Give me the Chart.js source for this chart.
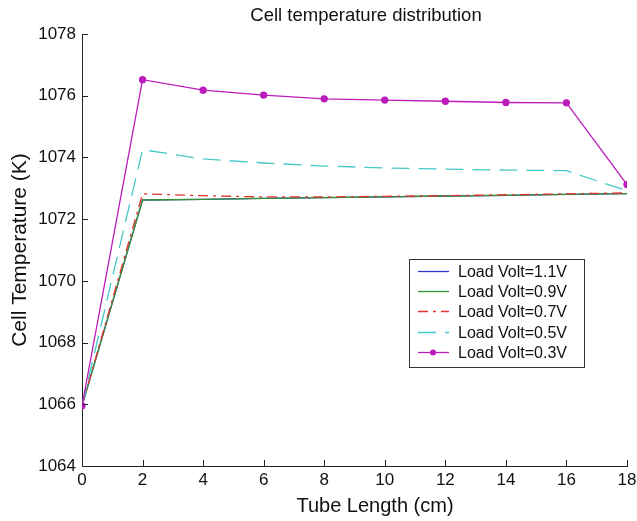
<!DOCTYPE html>
<html>
<head>
<meta charset="utf-8">
<script src="https://cdn.jsdelivr.net/npm/chart.js@4"></script>
<style>
  html, body { margin: 0; padding: 0; background: #fff; }
  #wrap { width: 637px; height: 521px; }
</style>
</head>
<body>
<div id="wrap"><canvas id="cellTemp" width="637" height="521"></canvas></div>
<script>
// tube positions (cm)
var tubeLength = [0, 2, 4, 6, 8, 10, 12, 14, 16, 18];

// cell temperature (K) for each load voltage
var volt11 = [1065.95, 1072.62, 1072.64, 1072.67, 1072.70, 1072.72, 1072.75, 1072.77, 1072.80, 1072.83];
var volt09 = [1065.95, 1072.62, 1072.64, 1072.67, 1072.70, 1072.72, 1072.75, 1072.77, 1072.80, 1072.83];
var volt07 = [1065.95, 1072.82, 1072.76, 1072.72, 1072.72, 1072.74, 1072.76, 1072.79, 1072.82, 1072.85];
var volt05 = [1065.95, 1074.25, 1073.95, 1073.82, 1073.72, 1073.66, 1073.62, 1073.59, 1073.57, 1072.92];
var volt03 = [1065.95, 1076.52, 1076.18, 1076.02, 1075.90, 1075.86, 1075.82, 1075.78, 1075.77, 1073.12];

var seriesLabels = ['Load Volt=1.1V', 'Load Volt=0.9V', 'Load Volt=0.7V', 'Load Volt=0.5V', 'Load Volt=0.3V'];
var yTicks = [1064, 1066, 1068, 1070, 1072, 1074, 1076, 1078];
var xTicks = [0, 2, 4, 6, 8, 10, 12, 14, 16, 18];

var chartTitle = 'Cell temperature distribution';
var xTitle = 'Tube Length (cm)';
var yTitle = 'Cell Temperature (K)';

var FONT = '"Liberation Sans", Arial, Helvetica, sans-serif';

function toPoints(arr) {
    var pts = [];
    for (let i = 0; i < arr.length; i++) {
        pts.push({ x: tubeLength[i], y: arr[i] });
    }
    return pts;
}

// inward tick marks (matlab style)
var inwardTicks = {
    id: 'inwardTicks',
    afterDatasetsDraw: function (chart) {
        var ctx = chart.ctx;
        var xs = chart.scales.x, ys = chart.scales.y;
        var area = chart.chartArea;
        ctx.save();
        ctx.strokeStyle = '#222';
        ctx.lineWidth = 1;
        ctx.beginPath();
        xTicks.forEach(function (v) {
            var px = Math.round(xs.getPixelForValue(v)) + 0.5;
            ctx.moveTo(px, area.bottom);
            ctx.lineTo(px, area.bottom - 6);
        });
        yTicks.forEach(function (v) {
            var py = Math.round(ys.getPixelForValue(v)) + 0.5;
            ctx.moveTo(area.left, py);
            ctx.lineTo(area.left + 6, py);
        });
        ctx.stroke();
        ctx.restore();
    }
};

// title and x label sit a bit right of centre in the original
var figTexts = {
    id: 'figTexts',
    afterDraw: function (chart) {
        var ctx = chart.ctx;
        ctx.save();
        ctx.fillStyle = '#111';
        ctx.textAlign = 'center';
        ctx.textBaseline = 'middle';
        ctx.font = '18.5px ' + FONT;
        ctx.fillText(chartTitle, 366, 16);
        ctx.font = '20px ' + FONT;
        ctx.fillText(xTitle, 375, 506);
        ctx.restore();
    }
};

// legend box drawn inside the plot
var boxLegend = {
    id: 'boxLegend',
    afterDraw: function (chart) {
        var ctx = chart.ctx;
        var left = 409, top = 259, w = 175, rowH = 20.2;
        var h = 108;
        ctx.save();
        ctx.fillStyle = '#fff';
        ctx.fillRect(left, top, w, h);
        ctx.strokeStyle = '#333';
        ctx.lineWidth = 1;
        ctx.strokeRect(left + 0.5, top + 0.5, w, h);
        ctx.font = '16px ' + FONT;
        ctx.textBaseline = 'middle';
        chart.data.datasets.forEach(function (ds, i) {
            var y = Math.round(top + 12 + i * rowH) + 0.5;
            ctx.strokeStyle = ds.borderColor;
            ctx.lineWidth = ds.borderWidth;
            ctx.setLineDash(ds.borderDash || []);
            ctx.beginPath();
            ctx.moveTo(left + 9, y);
            ctx.lineTo(left + 40, y);
            ctx.stroke();
            ctx.setLineDash([]);
            if (ds.pointRadius > 0) {
                ctx.fillStyle = ds.borderColor;
                ctx.beginPath();
                ctx.arc(left + 24, y, ds.pointRadius, 0, Math.PI * 2);
                ctx.fill();
            }
            ctx.fillStyle = '#111';
            ctx.fillText(ds.label, left + 49, y + 1);
        });
        ctx.restore();
    }
};

var colors = ['#3535cf', '#339433', '#e0342e', '#45c8c8', '#bb1cbb'];
var dashes = [[], [], [10, 5, 3, 5], [18, 9], []];
var allData = [volt11, volt09, volt07, volt05, volt03];

var datasets = [];
for (let i = 0; i < allData.length; i++) {
    datasets.push({
        label: seriesLabels[i],
        data: toPoints(allData[i]),
        borderColor: colors[i],
        backgroundColor: colors[i],
        borderWidth: 1.3,
        borderDash: dashes[i],
        pointRadius: i == 4 ? 3 : 0,
        pointHoverRadius: 0,
        tension: 0,
        fill: false,
        order: 4 - i
    });
}

const ctx = document.getElementById('cellTemp');
const config = {
    type: 'line',
    data: { datasets: datasets },
    options: {
        responsive: false,
        animation: false,
        layout: { padding: { top: 34, right: 10, bottom: 0, left: 0 } },
        plugins: {
            legend: { display: false },
            tooltip: { enabled: false },
            title: { display: false }
        },
        scales: {
            x: {
                type: 'linear',
                min: 0,
                max: 18,
                afterBuildTicks: function (s) { s.ticks = xTicks.map(function (v) { return { value: v }; }); },
                afterFit: function (s) {
                    s.height = 55;
                    s.paddingRight = 0;
                    s.paddingLeft = 0;
                },
                grid: { display: false, drawTicks: false },
                border: { display: true, color: '#222', width: 1 },
                ticks: {
                    color: '#111',
                    padding: 4,
                    maxRotation: 0,
                    autoSkip: false,
                    font: { family: FONT, size: 17 },
                    callback: function (v) { return String(v); }
                }
            },
            y: {
                min: 1064,
                max: 1078,
                afterBuildTicks: function (s) { s.ticks = yTicks.map(function (v) { return { value: v }; }); },
                afterFit: function (s) { s.width = 82; },
                grid: { display: false, drawTicks: false },
                border: { display: true, color: '#222', width: 1 },
                ticks: {
                    color: '#111',
                    padding: 6,
                    autoSkip: false,
                    font: { family: FONT, size: 17 },
                    callback: function (v) { return String(v); }
                },
                title: {
                    display: true,
                    text: yTitle,
                    color: '#111',
                    font: { family: FONT, size: 21 },
                    padding: { top: 8, bottom: 4 }
                }
            }
        }
    },
    plugins: [inwardTicks, figTexts, boxLegend]
};

const cellTempChart = new Chart(ctx, config);
</script>
</body>
</html>
